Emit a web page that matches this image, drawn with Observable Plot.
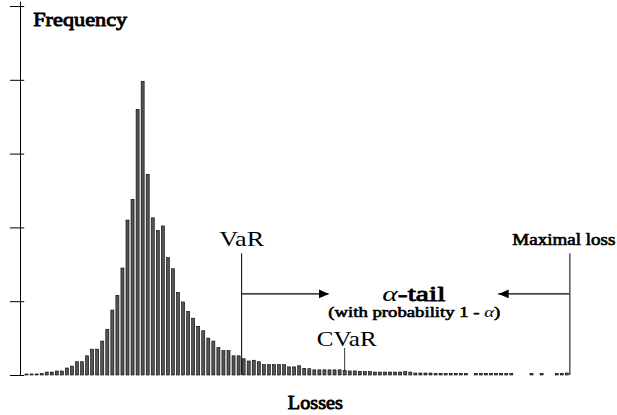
<!DOCTYPE html>
<html><head><meta charset="utf-8">
<script src="https://cdn.jsdelivr.net/npm/d3@7"></script>
<script src="https://cdn.jsdelivr.net/npm/@observablehq/plot@0.6"></script>
<style>body{margin:0;background:#fff}</style>
</head><body><div id="chart"></div>
<script>
// Frequency per loss bin (null = empty bin)
const freq = [
  1.4,1.4,1.4,2,4,4,5.4,5.4,9.5,12,
  18,18,26,35,35,46,62,88,108,145,
  210,238,360,398,272,213,196,202,159,144,
  112,99,86,77,66,60,50,46,37,33,
  33,26,26,22,19,20,18,14,14,14,
  14,14,11,11,12.5,9,8.5,7,7,7,
  7,7,7,6,5.5,5.5,5,4.5,4.5,4,
  4,4,4,4,4,4.5,4,2.7,2.7,2.7,
  2.7,2.3,2.3,2.3,2.3,2.3,2.3,2.3,null,2.3,
  2.3,2.3,2.3,2.3,2.3,2.3,2.3,null,null,null,
  2.3,null,2.3,null,null,2.3,2.3,2.7
];
const bins = d3.range(freq.length);
const yTicks = [0,100,200,300,400,500];
const VaR = 42.5, CVaR = 62.9, maxLoss = 107.5;
const tailLevel = 110.6;
const bars = bins.map((b,i)=>({bin:b, f:freq[i]})).filter(d=>d.f!=null);

const arrowHead = { draw(ctx, size) { const r = Math.sqrt(size/Math.PI); ctx.moveTo(r,0); ctx.lineTo(-r,-0.86*r); ctx.lineTo(-r,0.86*r); ctx.closePath(); } };
const serif = "'Liberation Serif', 'Times New Roman', serif";
const xMin = -1.287;
const bold = {fontWeight:"normal", stroke:"#000", strokeWidth:0.75, fill:"#000"};

const chart = Plot.plot({
  width:617, height:415, marginLeft:20, marginRight:0, marginTop:6, marginBottom:40,
  style:{fontFamily: serif, background:"#fff", color:"#000"},
  x:{type:"linear", domain:[xMin,116.93], axis:null},
  y:{domain:[0,500], axis:null},
  marks:[
    Plot.rectY(bars, {x1: d=>d.bin-0.3, x2: d=>d.bin+0.3, y1:0, y2:"f", fill:"#555", stroke:"#000", strokeWidth:0.6}),
    Plot.ruleX([xMin], {y1:0, y2:506, stroke:"#000"}),
    Plot.ruleY(yTicks, {x1:-3.27, x2:-0.45, stroke:"#000"}),
    Plot.ruleX([VaR, maxLoss], {y1:0, y2:165, stroke:"#000"}),
    Plot.ruleX([CVaR], {y1:6, y2:36.6, stroke:"#000", strokeWidth:0.8}),
    Plot.ruleY([tailLevel], {x1:VaR, x2:59.8, stroke:"#000", strokeWidth:1.2}),
    Plot.ruleY([tailLevel], {x1:93.4, x2:maxLoss, stroke:"#000", strokeWidth:1.2}),
    Plot.dot([59.8], {x:d=>d, y:tailLevel, symbol:arrowHead, r:5, fill:"#000", stroke:null, dx:-5}),
    Plot.dot([93.4], {x:d=>d, y:tailLevel, symbol:arrowHead, r:5, fill:"#000", stroke:null, rotate:180, dx:5}),
    Plot.text(["Frequency"], {text:d=>d, x:1.23, y:474, textAnchor:"start", lineAnchor:"bottom", fontSize:19.5, ...bold, strokeWidth:0.9}),
    Plot.text(["Losses"], {text:d=>d, x:57.1, y:-45, lineAnchor:"bottom", fontSize:19.5, ...bold, strokeWidth:0.9}),
    Plot.text(["VaR"], {text:d=>d, x:VaR, y:175, lineAnchor:"bottom", fontSize:22}),
    Plot.text(["Maximal loss"], {text:d=>d, x:96.1, y:177, textAnchor:"start", lineAnchor:"bottom", fontSize:16.5, ...bold, strokeWidth:0.65}),
    Plot.text(["α-tail"], {text:d=>d, x:76.6, y:101, lineAnchor:"bottom", fontSize:21, ...bold, strokeWidth:0.85}),
    Plot.text(["(with probability 1 - α)"], {text:d=>d, x:76.7, y:79.5, lineAnchor:"bottom", fontSize:14, ...bold, strokeWidth:0.6}),
    Plot.text(["CVaR"], {text:d=>d, x:63.3, y:40.6, lineAnchor:"bottom", fontSize:22})
  ]
});
document.getElementById("chart").append(chart);

const targetW = {"Frequency":94, "Losses":55, "VaR":45, "CVaR":60, "Maximal loss":103, "α-tail":63, "(with probability 1 - α)":172};
const svgns = "http://www.w3.org/2000/svg";
d3.select(chart).selectAll("text").each(function(){
  const t = this.textContent;
  if (t.includes("α")) {
    const parts = t.split("α");
    this.textContent = "";
    parts.forEach((p,k)=>{
      if (k>0) { const ts = document.createElementNS(svgns,"tspan"); ts.setAttribute("font-style","italic"); ts.setAttribute("stroke-width","0"); ts.textContent="α"; this.append(ts); }
      if (p) this.append(document.createTextNode(p));
    });
  }
  if (targetW[t]) { this.setAttribute("textLength", targetW[t]); this.setAttribute("lengthAdjust","spacingAndGlyphs"); }
});
</script>
</body></html>
